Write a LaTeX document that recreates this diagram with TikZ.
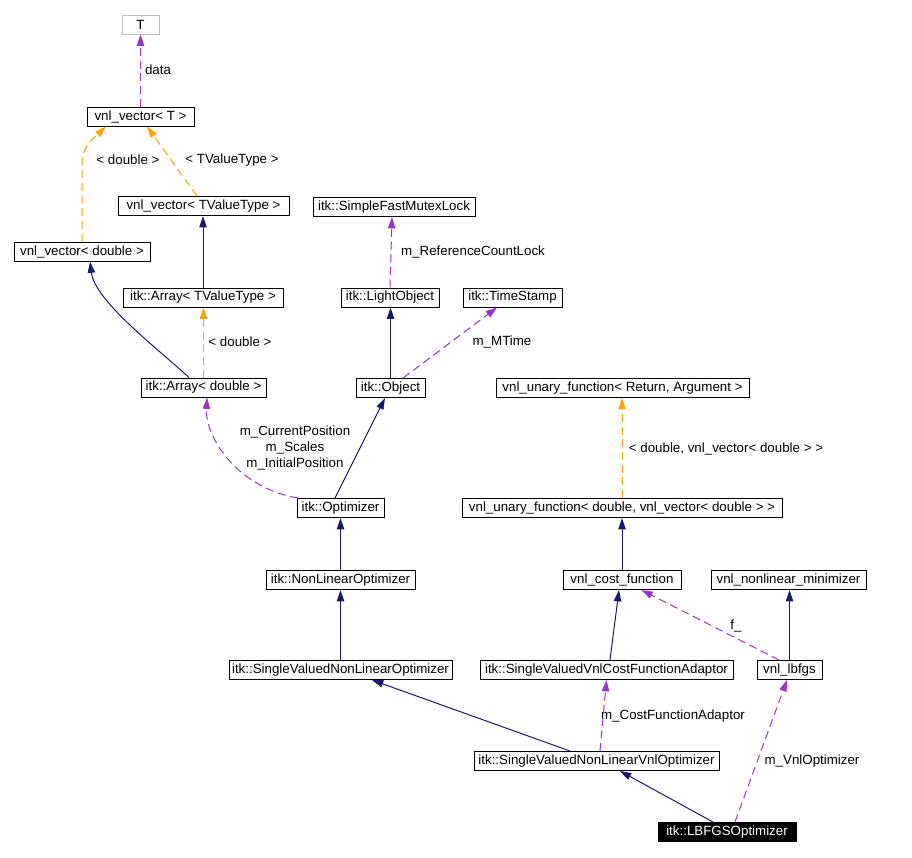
\documentclass[tikz,border=0pt]{standalone}
\usepackage{fontspec}
\setmainfont{Liberation Sans}
\usetikzlibrary{arrows.meta}
\definecolor{navy}{HTML}{191970}
\definecolor{orch}{HTML}{9A32CD}
\definecolor{orng}{HTML}{FFA500}
\definecolor{gry}{HTML}{BFBFBF}
\begin{document}
\begin{tikzpicture}[x=0.75pt,y=-0.75pt,
  cls/.style={draw=black, line width=0.75pt, minimum height=14.25pt, minimum width={#1*0.75pt}, inner sep=0pt, font=\fontsize{10}{12}\selectfont, fill=white},
  lbl/.style={font=\fontsize{10}{12}\selectfont, inner sep=0pt, align=center},
  tip/.style={-{Triangle[length=8.5pt,width=5.5pt]}},
  inh/.style={draw=navy, line width=0.75pt, tip, fill=none},
  use/.style={draw=orch, line width=0.75pt, dash pattern=on 6pt off 3.5pt, tip},
  tpl/.style={draw=orng, line width=0.75pt, dash pattern=on 6pt off 3.5pt, tip}]
\useasboundingbox (0,0) rectangle (912,857);
% nodes
\node[cls=37, draw=gry] (T) at (140.5,24.5) {T};
\node[cls=107] (vT) at (140.5,116.5) {vnl\_vector< T >};
\node[cls=171] (vTV) at (203.5,206) {vnl\_vector< TValueType >};
\node[cls=136] (vd) at (82,251.5) {vnl\_vector< double >};
\node[cls=160] (AT) at (203,297.5) {itk::Array< TValueType >};
\node[cls=125] (Ad) at (203.5,387.5) {itk::Array< double >};
\node[cls=162] (SFML) at (394,207) {itk::SimpleFastMutexLock};
\node[cls=98] (LO) at (390,297.5) {itk::LightObject};
\node[cls=99] (TS) at (512.5,297.5) {itk::TimeStamp};
\node[cls=69] (Obj) at (390.5,388) {itk::Object};
\node[cls=253] (UFRA) at (622.5,388) {vnl\_unary\_function< Return, Argument >};
\node[cls=320] (UFd) at (622,508) {vnl\_unary\_function< double, vnl\_vector< double > >};
\node[cls=118] (CF) at (622,580) {vnl\_cost\_function};
\node[cls=155] (NLM) at (788.5,580) {vnl\_nonlinear\_minimizer};
\node[cls=87] (Opt) at (340.5,508) {itk::Optimizer};
\node[cls=149] (NLO) at (340.5,580) {itk::NonLinearOptimizer};
\node[cls=223] (SVNLO) at (340.5,670) {itk::SingleValuedNonLinearOptimizer};
\node[cls=253] (SVVCFA) at (606.5,670) {itk::SingleValuedVnlCostFunctionAdaptor};
\node[cls=65] (lbfgs) at (789.5,670) {vnl\_lbfgs};
\node[cls=245] (SVNLVO) at (596.5,761) {itk::SingleValuedNonLinearVnlOptimizer};
\node[cls=138, fill=black, text=white] (LBFGS) at (727,832) {itk::LBFGSOptimizer};
% labels
\node[lbl] (l1) at (158,70) {data};
\node[lbl] (l2) at (128,160) {< double >};
\node[lbl] (l3) at (232,160) {< TValueType >};
\node[lbl] (l4) at (473,252) {m\_ReferenceCountLock};
\node[lbl] (l5) at (240,342) {< double >};
\node[lbl] (l6) at (502,342) {m\_MTime};
\node[lbl] (l7) at (295,448) {m\_CurrentPosition\\m\_Scales\\m\_InitialPosition};
\node[lbl] (l8) at (726,449) {< double, vnl\_vector< double > >};
\node[lbl] (l9) at (736,626) {f\_};
\node[lbl] (l10) at (673,716) {m\_CostFunctionAdaptor};
\node[lbl] (l11) at (812,761) {m\_VnlOptimizer};
% edges
\draw[use] (vT.north) -- (T.south);
\draw[tpl] (vd.north) -- ++(0,-77) .. controls +(0,-20) and +(-10,10) .. ([xshift=-26pt]vT.south);
\draw[tpl] ([xshift=-4.9pt]vTV.north) -- ([xshift=4.9pt]vT.south);
\draw[inh] (AT.north) -- (AT.north |- vTV.south);
\draw[inh] ([xshift=-10.9pt]Ad.north) .. controls +(-30,-28) and +(5,40) .. ([xshift=6pt]vd.south);
\draw[tpl] (Ad.north) -- (Ad.north |- AT.south);
\draw[use] ([xshift=1pt]Opt.north west) .. controls +(-60,-10) and +(-2,40) .. ([xshift=2.6pt]Ad.south);
\draw[use] (LO.north) -- ([xshift=-1.5pt]SFML.south);
\draw[inh] (Obj.north) -- (Obj.north |- LO.south);
\draw[use] ([xshift=9.4pt]Obj.north) -- ([xshift=-11.6pt]TS.south);
\draw[inh] ([xshift=-4.1pt]Opt.north) -- ([xshift=-4.1pt]Obj.south);
\draw[inh] (NLO.north) -- (Opt.south);
\draw[inh] (SVNLO.north) -- (NLO.south);
\draw[tpl] (UFd.north) -- (UFd.north |- UFRA.south);
\draw[inh] (CF.north) -- (CF.north |- UFd.south);
\draw[inh] ([xshift=2.6pt]SVVCFA.north) -- ([xshift=-2.25pt]CF.south);
\draw[use] ([xshift=-7.9pt]lbfgs.north) -- ([xshift=14.5pt]CF.south);
\draw[inh] (lbfgs.north) -- (lbfgs.north |- NLM.south);
\draw[inh] ([xshift=-19.9pt]SVNLVO.north) -- ([xshift=23.6pt]SVNLO.south);
\draw[use] ([xshift=2.6pt]SVNLVO.north) -- (SVVCFA.south);
\draw[inh] ([xshift=-10.5pt]LBFGS.north) -- ([xshift=17.6pt]SVNLVO.south);
\draw[use] ([xshift=6pt]LBFGS.north) -- ([xshift=-1.9pt]lbfgs.south);
\end{tikzpicture}
\end{document}
